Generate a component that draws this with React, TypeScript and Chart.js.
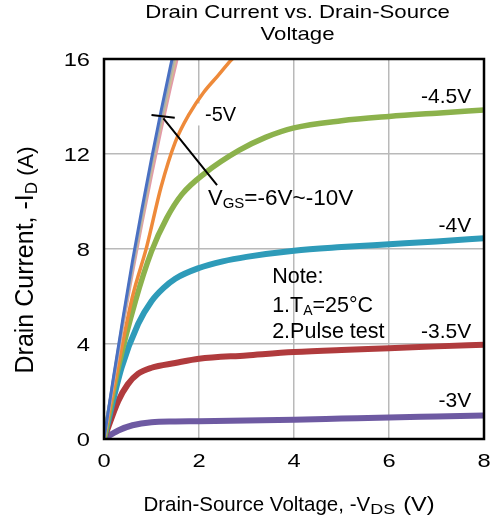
import React, { useEffect, useRef } from 'react';
import { Chart, registerables } from 'chart.js';

Chart.register(...registerables);

// ---------- data ----------
const X_TICKS = [0, 2, 4, 6, 8];
const Y_TICKS = [0, 4, 8, 12, 16];

// VGS = -6V ... -10V (nearly linear family)
const VGS_HIGH_X = [0, 0.2, 0.4, 0.6, 0.8, 1.0, 1.2, 1.4, 1.6];
const ID_VGS_10 = [0, 2.6, 5.1, 7.5, 9.7, 11.8, 13.8, 15.7, 17.5];
const ID_VGS_8 = [0, 2.55, 5.0, 7.3, 9.5, 11.6, 13.5, 15.4, 17.2];
const ID_VGS_7 = [0, 2.5, 4.9, 7.2, 9.3, 11.4, 13.3, 15.1, 16.9];
const ID_VGS_6 = [0, 2.45, 4.8, 7.0, 9.1, 11.1, 13.0, 14.8, 16.5];

// VGS = -5V
const VGS5_X = [0, 0.3, 0.6, 0.9, 1.2, 1.5, 1.8, 2.1, 2.4, 2.7, 3.0];
const ID_VGS_5 = [0, 3.1, 6.0, 8.1, 10.6, 12.5, 13.7, 14.6, 15.3, 16.0, 16.5];

// VGS = -4.5V
const VGS45_X = [0, 0.3, 0.66, 1.0, 1.32, 1.64, 2.13, 2.84, 3.4, 4, 5, 6, 7, 8];
const ID_VGS_45 = [0, 3.0, 5.8, 7.9, 9.3, 10.3, 11.2, 12.15, 12.7, 13.1, 13.4, 13.58, 13.72, 13.85];

// VGS = -4V
const VGS4_X = [0, 0.37, 0.72, 1.0, 1.25, 1.5, 2, 2.5, 3, 4, 5, 6, 7, 8];
const ID_VGS_4 = [0, 3.0, 4.85, 5.8, 6.35, 6.75, 7.2, 7.48, 7.67, 7.93, 8.08, 8.2, 8.32, 8.45];

// VGS = -3.5V
const VGS35_X = [0, 0.3, 0.5, 0.72, 1.0, 1.5, 2, 3, 4, 5, 6, 7, 8];
const ID_VGS_35 = [0, 1.6, 2.3, 2.75, 3.0, 3.2, 3.38, 3.52, 3.66, 3.75, 3.82, 3.9, 3.97];

// VGS = -3V
const VGS3_X = [0, 0.3, 0.6, 1.0, 1.5, 2, 3, 4, 5, 6, 7, 8];
const ID_VGS_3 = [0, 0.36, 0.58, 0.71, 0.74, 0.75, 0.78, 0.81, 0.86, 0.91, 0.95, 0.99];

const SERIES_LABELS = ['-10V', '-8V', '-7V', '-6V', '-5V', '-4.5V', '-4V', '-3.5V', '-3V'];

// ---------- styling ----------
const FONT = '"Liberation Sans", Arial, Helvetica, sans-serif';

type Part = { t: string; size: number; sx?: number; dy?: number; dx?: number };

function drawParts(
  ctx: CanvasRenderingContext2D,
  parts: Part[],
  x: number,
  y: number,
  align: 'left' | 'center' | 'right',
  rot = 0
) {
  ctx.save();
  const widths = parts.map((p) => {
    ctx.font = `${p.size}px ${FONT}`;
    return ctx.measureText(p.t).width * (p.sx ?? 1) + (p.dx ?? 0);
  });
  const total = widths.reduce((a, b) => a + b, 0);
  ctx.translate(x, y);
  if (rot) ctx.rotate(rot);
  let cx = align === 'left' ? 0 : align === 'center' ? -total / 2 : -total;
  parts.forEach((p, i) => {
    ctx.save();
    ctx.font = `${p.size}px ${FONT}`;
    ctx.translate(cx + (p.dx ?? 0), p.dy ?? 0);
    ctx.scale(p.sx ?? 1, 1);
    ctx.textAlign = 'left';
    ctx.textBaseline = 'alphabetic';
    ctx.fillStyle = '#000';
    ctx.fillText(p.t, 0, 0);
    ctx.restore();
    cx += widths[i];
  });
  ctx.restore();
  return total;
}

const zip = (xs: number[], ys: number[]) => xs.map((x, i) => ({ x, y: ys[i] }));

const overlayPlugin = {
  id: 'overlay',
  afterDraw(chart: any) {
    const { ctx, chartArea: a, scales } = chart;
    const xs = scales.x;
    const ys = scales.y;
    const px = (v: number) => xs.getPixelForValue(v);
    const py = (v: number) => ys.getPixelForValue(v);
    ctx.save();

    // plot frame
    ctx.strokeStyle = '#000';
    ctx.lineWidth = 2.5;
    ctx.strokeRect(a.left, a.top, a.right - a.left, a.bottom - a.top);

    // tick labels
    X_TICKS.forEach((v) => drawParts(ctx, [{ t: String(v), size: 18.5, sx: 1.28 }], px(v), 466.5, 'center'));
    Y_TICKS.forEach((v) => drawParts(ctx, [{ t: String(v), size: 18.5, sx: 1.28 }], 90, py(v) + 7, 'right'));

    // chart title
    drawParts(ctx, [{ t: 'Drain Current vs. Drain-Source', size: 18.5, sx: 1.2 }], 297.5, 17.5, 'center');
    drawParts(ctx, [{ t: 'Voltage', size: 18.5, sx: 1.2 }], 297.5, 39.5, 'center');

    // axis titles
    drawParts(
      ctx,
      [
        { t: 'Drain-Source Voltage, -V', size: 20.5 },
        { t: 'DS', size: 15, sx: 1.2, dy: 3 },
        { t: '(V)', size: 20.5, sx: 1.15, dx: 8 },
      ],
      289,
      510.5,
      'center'
    );
    drawParts(
      ctx,
      [
        { t: 'Drain Current, -I', size: 25 },
        { t: 'D', size: 17, dy: 4 },
        { t: ' (A)', size: 22 },
      ],
      33,
      260,
      'center',
      -Math.PI / 2
    );

    // -5V label with white backing box
    ctx.font = `20px ${FONT}`;
    const w5 = ctx.measureText('-5V').width;
    const l5x = px(2.126);
    const l5y = py(13.37);
    ctx.fillStyle = '#fff';
    ctx.fillRect(l5x - 7, l5y - 18, w5 + 10, 22);
    drawParts(ctx, [{ t: '-5V', size: 20 }], l5x, l5y, 'left');

    // pointer lines for VGS = -6V ~ -10V
    ctx.strokeStyle = '#000';
    ctx.lineWidth = 2;
    ctx.beginPath();
    ctx.moveTo(px(1.0), py(13.64));
    ctx.lineTo(px(1.49), py(13.53));
    ctx.moveTo(px(1.25), py(13.5));
    ctx.lineTo(px(2.38), py(10.69));
    ctx.stroke();

    drawParts(
      ctx,
      [
        { t: 'V', size: 22 },
        { t: 'GS', size: 15, dy: 3 },
        { t: '=-6V~-10V', size: 22.5 },
      ],
      px(2.19),
      py(9.85),
      'left'
    );

    // curve labels
    drawParts(ctx, [{ t: '-4.5V', size: 21 }], px(7.73), py(14.15), 'right');
    drawParts(ctx, [{ t: '-4V', size: 21 }], px(7.73), py(8.73), 'right');
    drawParts(ctx, [{ t: '-3.5V', size: 21 }], px(7.73), py(4.24), 'right');
    drawParts(ctx, [{ t: '-3V', size: 21 }], px(7.73), py(1.36), 'right');

    // note
    drawParts(ctx, [{ t: 'Note:', size: 21.5 }], px(3.54), py(6.56), 'left');
    drawParts(
      ctx,
      [
        { t: '1.T', size: 21.5 },
        { t: 'A', size: 14, dy: 3 },
        { t: '=25°C', size: 21.5 },
      ],
      px(3.54),
      py(5.36),
      'left'
    );
    drawParts(ctx, [{ t: '2.Pulse test', size: 21.5 }], px(3.54), py(4.24), 'left');

    ctx.restore();
  },
};

export default function App() {
  const ref = useRef<HTMLCanvasElement>(null);

  useEffect(() => {
    if (!ref.current) return;
    const mk = (label: string, data: { x: number; y: number }[], color: string, width: number) => ({
      label,
      data,
      borderColor: color,
      backgroundColor: color,
      borderWidth: width,
      pointRadius: 0,
      showLine: true,
      tension: 0.4,
      cubicInterpolationMode: 'monotone' as const,
      clip: 0,
      borderCapStyle: 'round' as const,
    });

    const chart = new Chart(ref.current, {
      type: 'scatter',
      data: {
        datasets: [
          mk(SERIES_LABELS[0], zip(VGS_HIGH_X, ID_VGS_10), '#4a70c2', 3),
          mk(SERIES_LABELS[1], zip(VGS_HIGH_X, ID_VGS_8), '#a8acb0', 3),
          mk(SERIES_LABELS[2], zip(VGS_HIGH_X, ID_VGS_7), '#cbbd92', 3),
          mk(SERIES_LABELS[3], zip(VGS_HIGH_X, ID_VGS_6), '#e39aa8', 3),
          mk(SERIES_LABELS[4], zip(VGS5_X, ID_VGS_5), '#ee8a3a', 3.5),
          mk(SERIES_LABELS[5], zip(VGS45_X, ID_VGS_45), '#8cb24c', 5.5),
          mk(SERIES_LABELS[6], zip(VGS4_X, ID_VGS_4), '#2e9bb9', 6),
          mk(SERIES_LABELS[7], zip(VGS35_X, ID_VGS_35), '#b03b3d', 6),
          mk(SERIES_LABELS[8], zip(VGS3_X, ID_VGS_3), '#6e5aa2', 6),
        ],
      },
      options: {
        responsive: false,
        animation: false,
        layout: { padding: { top: 59, right: 6, bottom: 0, left: 0 } },
        plugins: {
          legend: { display: false },
          title: { display: false },
          tooltip: { enabled: false },
        },
        scales: {
          x: {
            type: 'linear',
            min: 0,
            max: 8,
            ticks: { display: false, stepSize: 2 },
            grid: { color: '#b9b9b9', lineWidth: 1.5, drawTicks: false },
            border: { display: false },
            afterFit: (s: any) => {
              s.height = 82;
            },
          },
          y: {
            type: 'linear',
            min: 0,
            max: 16,
            ticks: { display: false, stepSize: 4 },
            grid: { color: '#b9b9b9', lineWidth: 1.5, drawTicks: false },
            border: { display: false },
            afterFit: (s: any) => {
              s.width = 104;
            },
          },
        },
      },
      plugins: [overlayPlugin],
    });
    return () => chart.destroy();
  }, []);

  return (
    <div style={{ position: 'fixed', left: 0, top: 0, width: 490, height: 521, background: '#fff' }}>
      <canvas ref={ref} width={490} height={521} style={{ display: 'block' }} />
    </div>
  );
}
